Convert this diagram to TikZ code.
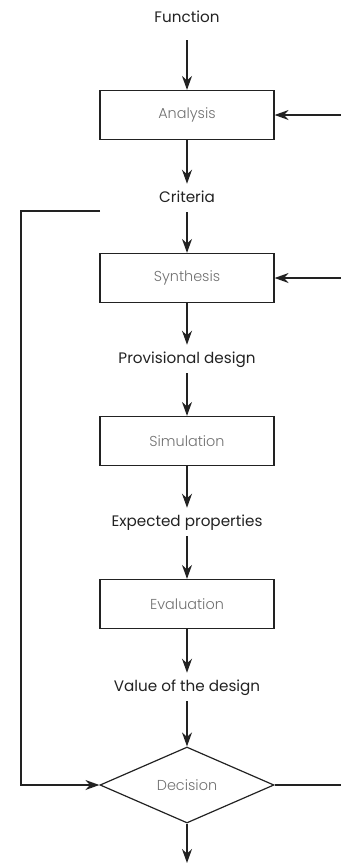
\documentclass[tikz,border=0pt]{standalone}
\usepackage{fontspec}
\setmainfont{Poppins}
\newfontfamily\lightfont{Poppins Light}
\usetikzlibrary{arrows.meta,shapes.geometric,positioning}
\definecolor{ink}{HTML}{222222}
\definecolor{stagegray}{HTML}{707070}
\tikzstyle{stage}=[rectangle,draw=ink,line width=0.9pt,minimum width=130.5pt,minimum height=36.75pt,inner sep=0pt,font=\lightfont\fontsize{10.8}{13}\selectfont,text=stagegray]
\tikzstyle{choice}=[diamond,draw=ink,line width=0.9pt,minimum width=130.5pt,minimum height=57pt,aspect=2.3,inner sep=0pt,font=\lightfont\fontsize{10.8}{13}\selectfont,text=stagegray]
\tikzstyle{result}=[font=\fontsize{11.4}{14}\selectfont,text=ink,text height=8.5pt,text depth=2.5pt,inner ysep=5pt,inner xsep=2pt]
\tikzstyle{flow} = [draw=ink,line width=1.2pt,-{Stealth[length=10.5pt,width=7.5pt]}]
\tikzstyle{plain} = [draw=ink,line width=0.9pt]
\begin{document}
\begin{tikzpicture}[x=0.75pt,y=-0.75pt]
    \useasboundingbox (0,0) rectangle (341,865);
    % the stages of the design cycle
    \foreach \pos/\name/\txt in {{(187,115)/ana/Analysis}, {(187,278)/syn/Synthesis},
                                 {(187,441)/sim/Simulation}, {(187,604)/eva/Evaluation}}
        \node[stage] (\name) at \pos {\txt};
    \node[choice] (dec) at (187,785) {Decision};
    % what each stage hands on
    \foreach \pos/\name/\txt in {{(187,18)/fun/Function}, {(187,198)/cri/Criteria},
                                 {(187,359)/pro/Provisional design}, {(187,522)/exp/Expected properties},
                                 {(187,687)/val/Value of the design}}
        \node[result] (\name) at \pos {\txt};
    % free ends
    \coordinate (inA) at (341,115);
    \coordinate (inS) at (341,278);
    \coordinate (back) at (100,211);
    \coordinate (corner) at (21,211);
    \coordinate (out) at (341,785);
    \coordinate (fin) at (187,863);
    % main flow
    \path[flow, shorten <=6pt] (fun) -- (ana);
    \foreach \source/ \dest in {ana/cri, cri/syn, syn/pro, pro/sim, sim/exp, exp/eva, eva/val, val/dec, dec/fin}
        \path[flow] (\source) -- (\dest);
    \path[flow] (inA) -- (ana.east);
    \path[flow] (inS) -- (syn.east);
    % loop back and exit
    \path[flow] (back) -- (corner) |- (dec.west);
    \path[plain] (dec.east) -- (out);
\end{tikzpicture}
\end{document}
